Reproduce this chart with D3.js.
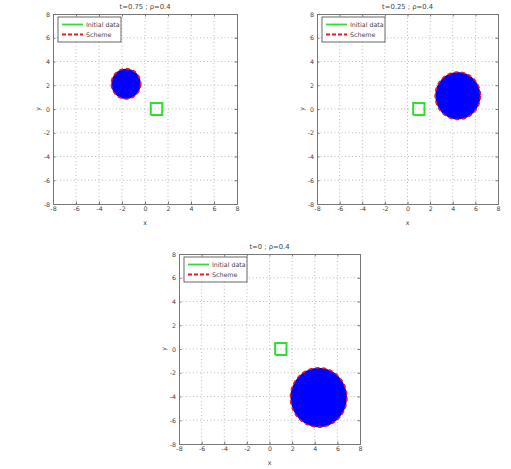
<!DOCTYPE html>
<html><head><meta charset="utf-8">
<script src="https://cdn.jsdelivr.net/npm/d3@7/dist/d3.min.js"></script>
<style>body{margin:0;background:#fff;} svg{display:block;font-family:"DejaVu Sans",sans-serif;}</style>
</head><body>
<svg id="c" width="511" height="469"></svg>
<script>
// ---- data ----
const titles = ["t=0.75 ; \u03c1=0.4", "t=0.25 ; \u03c1=0.4", "t=0 ; \u03c1=0.4"];
const centersX = [-1.65, 4.45, 4.35];
const centersY = [2.12, 1.12, -4.08];
const radii = [1.28, 2.0, 2.5];
const squareX = [0.5, 1.5, 1.5, 0.5, 0.5];
const squareY = [-0.5, -0.5, 0.5, 0.5, -0.5];
const ticks = [-8, -6, -4, -2, 0, 2, 4, 6, 8];
const domain = [-8, 8];
const legendLabels = ["Initial data", "Scheme"];

// ---- layout ----
const boxes = [
  {l: 53, r: 237, t: 14, b: 204},
  {l: 317, r: 498, t: 14, b: 204},
  {l: 179, r: 360, t: 254, b: 444}
];

const svg = d3.select("#c");

boxes.forEach((bx, i) => {
  const x = d3.scaleLinear().domain(domain).range([bx.l, bx.r]);
  const y = d3.scaleLinear().domain(domain).range([bx.b, bx.t]);
  const g = svg.append("g");

  // grid
  g.append("g").selectAll("line.gx").data(ticks.slice(1, -1)).join("line")
    .attr("x1", d => x(d)).attr("x2", d => x(d)).attr("y1", bx.t).attr("y2", bx.b)
    .attr("stroke", "#aaa").attr("stroke-width", 0.8).attr("stroke-dasharray", "1,2.5");
  g.append("g").selectAll("line.gy").data(ticks.slice(1, -1)).join("line")
    .attr("y1", d => y(d)).attr("y2", d => y(d)).attr("x1", bx.l).attr("x2", bx.r)
    .attr("stroke", "#aaa").attr("stroke-width", 0.8).attr("stroke-dasharray", "1,2.5");

  // axes (ticks inward)
  const tickStyle = a => a.tickValues(ticks).tickSize(-2.5).tickPadding(3);
  const fmt = d => String(d);
  const ax = g.append("g").attr("transform", `translate(0,${bx.b})`).call(tickStyle(d3.axisBottom(x)).tickFormat(fmt));
  const ay = g.append("g").attr("transform", `translate(${bx.l},0)`).call(tickStyle(d3.axisLeft(y)).tickFormat(fmt));
  const axT = g.append("g").attr("transform", `translate(0,${bx.t})`).call(tickStyle(d3.axisTop(x)).tickFormat(""));
  const ayR = g.append("g").attr("transform", `translate(${bx.r},0)`).call(tickStyle(d3.axisRight(y)).tickFormat(""));
  [ax, ay, axT, ayR].forEach(a => {
    a.select(".domain").attr("stroke", "#777");
    a.selectAll(".tick line").attr("stroke", "#777");
    a.selectAll("text").attr("font-size", 6.3).attr("fill", "#444").attr("font-family", "DejaVu Sans, sans-serif");
  });

  // square (initial data)
  const line = d3.line().x(d => x(d[0])).y(d => y(d[1]));
  const sq = squareX.map((v, k) => [v, squareY[k]]);

  // circle (scheme)
  const cx = x(centersX[i]), cy = y(centersY[i]);
  const rx = x(centersX[i] + radii[i]) - cx, ry = cy - y(centersY[i] + radii[i]);
  g.append("ellipse").attr("cx", cx).attr("cy", cy).attr("rx", rx).attr("ry", ry)
    .attr("fill", "#0000ff").attr("stroke", "#f01818").attr("stroke-width", 1.6).attr("stroke-dasharray", "4,3");

  g.append("path").attr("d", line(sq)).attr("fill", "none").attr("stroke", "#2ee02e").attr("stroke-width", 2);

  // title and labels
  g.append("text").attr("x", (bx.l + bx.r) / 2).attr("y", bx.t - 5).attr("text-anchor", "middle")
    .attr("font-size", 6.8).attr("fill", "#444").text(titles[i]);
  g.append("text").attr("x", (bx.l + bx.r) / 2).attr("y", bx.b + 21).attr("text-anchor", "middle")
    .attr("font-size", 6.3).attr("fill", "#444").text("x");
  g.append("text").attr("transform", `translate(${bx.l - 13},${(bx.t + bx.b) / 2}) rotate(-90)`)
    .attr("text-anchor", "middle").attr("font-size", 6.3).attr("fill", "#444").text("y");

  // legend
  const lg = g.append("g").attr("transform", `translate(${bx.l + 5},${bx.t + 3})`);
  lg.append("rect").attr("x", 0).attr("y", 0).attr("width", 63).attr("height", 25)
    .attr("fill", "#fff").attr("stroke", "#444").attr("stroke-width", 0.8);
  const legColors = ["#2ee02e", "#f01818"];
  const legDash = [null, "4,2"];
  legendLabels.forEach((lab, k) => {
    const ly = 7.5 + k * 10;
    lg.append("line").attr("x1", 4).attr("x2", 25).attr("y1", ly).attr("y2", ly)
      .attr("stroke", legColors[k]).attr("stroke-width", 1.8).attr("stroke-dasharray", legDash[k]);
    lg.append("text").attr("x", 28).attr("y", ly + 2.2).attr("font-size", 6.3).attr("fill", "#444").text(lab);
  });
});
</script>
</body></html>
